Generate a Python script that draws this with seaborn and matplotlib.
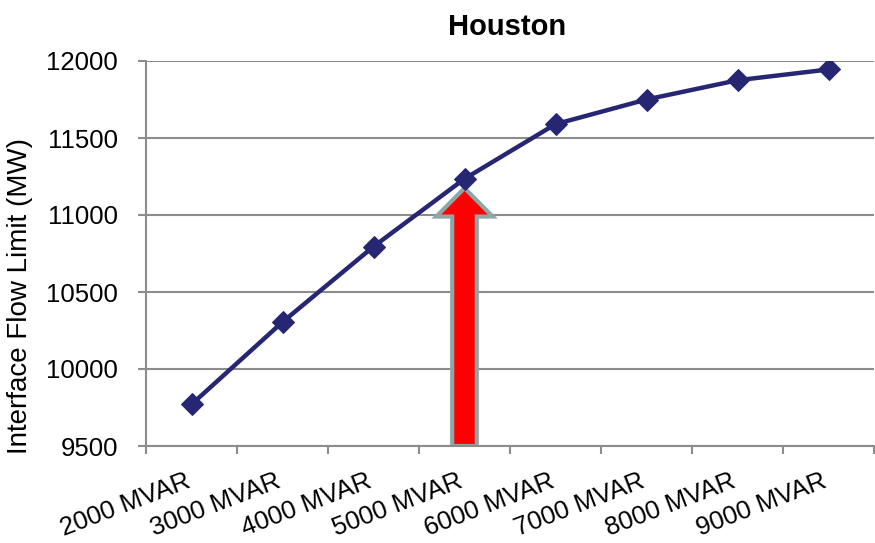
import pandas as pd
import matplotlib
matplotlib.use("Agg")
import matplotlib.pyplot as plt
import seaborn as sns
from matplotlib.ticker import FixedLocator

# Data
categories = ["2000 MVAR", "3000 MVAR", "4000 MVAR", "5000 MVAR",
              "6000 MVAR", "7000 MVAR", "8000 MVAR", "9000 MVAR"]
flow_limit = [9770, 10305, 10795, 11235, 11590, 11750, 11875, 11945]
y_ticks = [9500, 10000, 10500, 11000, 11500, 12000]

# arrow marks the 5000 MVAR case
arrow_category = "5000 MVAR"
arrow_base = 9500
arrow_tip = 11175

df = pd.DataFrame({"reactive": categories, "limit": flow_limit})

sns.set_style("white")
plt.rcParams["font.family"] = ["Liberation Sans", "DejaVu Sans"]
plt.rcParams["text.color"] = "black"
plt.rcParams["axes.labelcolor"] = "black"

fig = plt.figure(figsize=(8.75, 5.43), dpi=100)
ax = fig.add_axes([146 / 875, 97 / 543, 728 / 875, 385 / 543])

grid_col = "#8c8c8c"
line_col = "#262673"

# red arrow with grey outline
xi = categories.index(arrow_category)
ax.arrow(xi, arrow_base, 0, arrow_tip - arrow_base, width=0.27,
         head_width=0.62, head_length=185, length_includes_head=True,
         fc="red", ec="#8fa6a6", lw=3, zorder=2)

sns.lineplot(data=df, x="reactive", y="limit", sort=False, ax=ax,
             color=line_col, lw=3.2, marker="D", markersize=11,
             markeredgecolor=line_col, zorder=3)

ax.set_xlim(-0.5, len(categories) - 0.5)
ax.set_ylim(y_ticks[0], y_ticks[-1])
ax.set_yticks(y_ticks)
ax.yaxis.grid(True, color=grid_col, lw=1.5)
ax.set_axisbelow(True)

# labels at category centres, tick marks at category boundaries
ax.set_xticks(range(len(categories)))
ax.set_xticklabels(categories, rotation=21, ha="right", va="baseline",
                   rotation_mode="anchor", fontsize=18.5)
ax.tick_params(axis="x", which="major", length=0, pad=29.5, labelcolor="black")
ax.xaxis.set_minor_locator(FixedLocator([i - 0.5 for i in range(len(categories) + 1)]))
ax.tick_params(axis="x", which="minor", length=6, width=1.5, color=grid_col,
               direction="out", bottom=True)
ax.tick_params(axis="y", length=6, width=1.5, color=grid_col, direction="out",
               labelsize=18.5, pad=14, left=True, labelcolor="black")

for side in ["top", "right"]:
    ax.spines[side].set_visible(False)
for side in ["left", "bottom"]:
    ax.spines[side].set_color(grid_col)
    ax.spines[side].set_linewidth(1.5)

ax.set_xlabel("")
ax.set_ylabel("Interface Flow Limit (MW)", fontsize=20)
ax.yaxis.set_label_coords(-0.155, 0.39)
ax.set_title("Houston", fontsize=21, fontweight="bold", pad=19, x=0.496)

fig.savefig("out.png", dpi=100)
